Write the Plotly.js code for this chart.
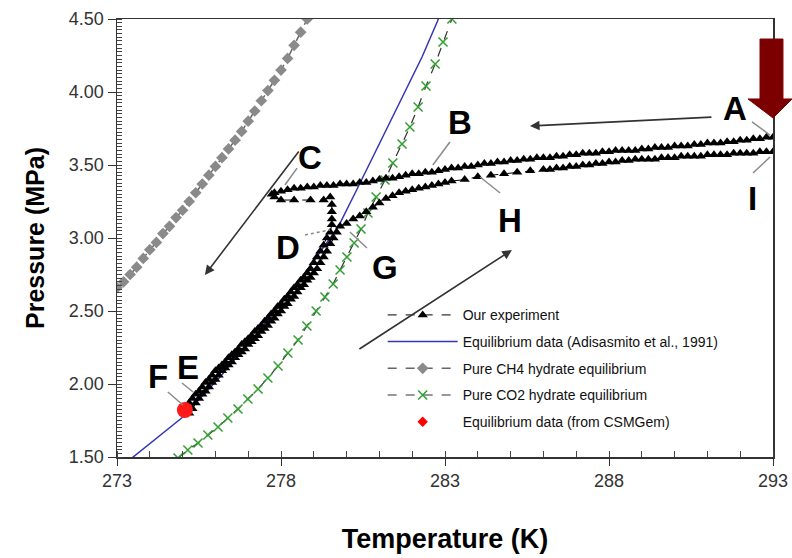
<!DOCTYPE html>
<html><head><meta charset="utf-8">
<script src="https://cdn.plot.ly/plotly-3.0.1.min.js"></script>
<style>html,body{margin:0;padding:0;background:#fff}#c{width:792px;height:558px}</style>
</head><body><div id="c"></div>
<script>
// ---- data (T in K, P in MPa) ----
const ch4T = [273.0,273.2,273.4,273.6,273.8,274.0,274.2,274.4,274.6,274.8,275.0,275.2,275.4,275.6,275.8,276.0,276.2,276.4,276.6,276.8,277.0,277.2,277.4,277.6,277.8,278.0,278.2,278.4,278.6,278.8,279.0];
const ch4P = [2.66,2.70,2.75,2.80,2.86,2.92,2.97,3.03,3.08,3.14,3.19,3.25,3.31,3.37,3.43,3.49,3.55,3.61,3.67,3.73,3.80,3.87,3.94,4.01,4.08,4.15,4.23,4.32,4.41,4.50,4.59];

const co2T = [274.86,275.16,275.47,275.77,276.08,276.38,276.69,276.99,277.30,277.60,277.91,278.21,278.52,278.79,279.07,279.34,279.59,279.80,280.01,280.23,280.44,280.65,280.90,281.17,281.41,281.69,281.93,282.18,282.42,282.70,282.94,283.21];
const co2P = [1.493,1.548,1.596,1.651,1.705,1.767,1.829,1.897,1.966,2.041,2.123,2.212,2.301,2.397,2.500,2.596,2.685,2.781,2.870,2.966,3.062,3.171,3.281,3.397,3.514,3.644,3.760,3.897,4.041,4.192,4.342,4.500];

const adiT = [273.15,274.01,275.01,276.14,277.36,278.58,279.74,280.26,280.77,281.29,281.81,282.30,282.76,282.88];
const adiP = [1.438,1.596,1.774,2.048,2.370,2.712,3.075,3.308,3.541,3.774,4.007,4.240,4.479,4.548];

// Our experiment: A -> B -> C (cooling, gas phase)
const expUpperT = [293.0,292.8,292.6,292.4,292.2,292.0,291.8,291.6,291.4,291.2,291.0,290.8,290.6,290.4,290.2,290.0,289.8,289.6,289.4,289.2,289.0,288.8,288.6,288.4,288.2,288.0,287.8,287.6,287.4,287.2,287.0,286.8,286.6,286.4,286.2,286.0,285.8,285.6,285.4,285.2,285.0,284.8,284.6,284.4,284.2,284.0,283.8,283.6,283.4,283.2,283.0,282.8,282.6,282.4,282.2,282.0,281.8,281.6,281.4,281.2,281.0,280.8,280.6,280.4,280.2,280.0,279.8,279.6,279.4,279.2,279.0,278.8,278.6,278.4,278.2,278.0,277.8];
const expUpperP = [3.69,3.69,3.68,3.68,3.67,3.67,3.66,3.66,3.65,3.65,3.65,3.64,3.64,3.63,3.63,3.63,3.62,3.62,3.62,3.61,3.61,3.60,3.60,3.60,3.60,3.59,3.59,3.58,3.58,3.58,3.57,3.57,3.56,3.56,3.55,3.55,3.55,3.54,3.54,3.53,3.53,3.52,3.52,3.51,3.51,3.50,3.49,3.49,3.48,3.48,3.47,3.46,3.45,3.45,3.44,3.44,3.43,3.42,3.41,3.41,3.40,3.39,3.38,3.38,3.37,3.37,3.37,3.36,3.36,3.36,3.35,3.35,3.34,3.34,3.33,3.32,3.31];
// C -> D (hydrate onset)
const expOnsetT = [277.72,277.80,278.00,278.40,278.90,279.30,279.50,279.55,279.55,279.55,279.55];
const expOnsetP = [3.30,3.28,3.26,3.26,3.26,3.26,3.28,3.23,3.18,3.13,3.09];
// D -> E (cooling along hydrate formation)
const expCoolT = [279.5,279.4,279.3,279.2,279.1,279.0,278.9,278.8,278.7,278.6,278.5,278.4,278.3,278.2,278.1,278.0,277.9,277.8,277.7,277.6,277.5,277.4,277.3,277.2,277.1,277.0,276.9,276.8,276.7,276.6,276.5,276.4,276.3,276.2,276.1,276.0,275.9,275.8,275.7,275.6,275.5,275.4,275.3,275.2,275.1];
const expCoolP = [3.04,3.00,2.95,2.91,2.87,2.83,2.79,2.76,2.73,2.71,2.68,2.66,2.63,2.60,2.58,2.55,2.53,2.50,2.48,2.45,2.43,2.40,2.38,2.36,2.33,2.31,2.29,2.27,2.24,2.22,2.20,2.18,2.15,2.13,2.11,2.09,2.06,2.03,2.01,1.98,1.95,1.93,1.90,1.87,1.83];
// E -> G (heating, dissociation)
const expHeatT = [275.2,275.3,275.4,275.5,275.6,275.7,275.8,275.9,276.0,276.1,276.2,276.3,276.4,276.5,276.6,276.7,276.8,276.9,277.0,277.1,277.2,277.3,277.4,277.5,277.6,277.7,277.8,277.9,278.0,278.1,278.2,278.3,278.4,278.5,278.6,278.7,278.8,278.9,279.0,279.1,279.2,279.3,279.4,279.5,279.6,279.7];
const expHeatP = [1.80,1.83,1.87,1.90,1.93,1.95,1.98,2.01,2.03,2.06,2.09,2.11,2.13,2.15,2.18,2.20,2.22,2.24,2.27,2.29,2.31,2.33,2.36,2.38,2.40,2.43,2.45,2.48,2.50,2.53,2.55,2.58,2.60,2.63,2.66,2.68,2.71,2.73,2.76,2.79,2.83,2.87,2.91,2.96,3.00,3.04];
// G -> H -> I
const expLowerT = [279.8,280.0,280.2,280.4,280.6,280.8,281.0,281.2,281.4,281.6,281.8,282.0,282.2,282.4,282.6,282.8,283.0,283.2,283.6,284.0,284.4,284.8,285.2,285.6,286.0,286.2,286.4,286.6,286.8,287.0,287.2,287.4,287.6,287.8,288.0,288.2,288.4,288.6,288.8,289.0,289.2,289.4,289.6,289.8,290.0,290.2,290.4,290.6,290.8,291.0,291.2,291.4,291.6,291.8,292.0,292.2,292.4,292.6,292.8,293.0];
const expLowerP = [3.08,3.10,3.13,3.15,3.18,3.21,3.24,3.27,3.29,3.31,3.32,3.33,3.34,3.35,3.36,3.37,3.38,3.39,3.40,3.42,3.43,3.44,3.45,3.46,3.47,3.47,3.48,3.48,3.49,3.49,3.50,3.50,3.51,3.51,3.52,3.52,3.53,3.53,3.54,3.54,3.54,3.54,3.55,3.55,3.55,3.56,3.56,3.56,3.56,3.57,3.57,3.57,3.57,3.58,3.58,3.58,3.58,3.59,3.59,3.59];

const csmT = [275.07];
const csmP = [1.822];

const xTicks = [273,278,283,288,293];
const yTicks = [1.5,2.0,2.5,3.0,3.5,4.0,4.5];

const expT = [].concat(expUpperT, expOnsetT, expCoolT, expHeatT, expLowerT);
const expP = [].concat(expUpperP, expOnsetP, expCoolP, expHeatP, expLowerP);

const FONT = 'Arial, "Liberation Sans", sans-serif';

const traces = [
  {x: adiT, y: adiP, mode: 'lines', name: 'Equilibrium data (Adisasmito et al., 1991)',
   line: {color: '#3535b5', width: 1.5}, legendrank: 2, legendgroup: 'g2'},
  {x: ch4T, y: ch4P, mode: 'lines+markers', name: 'Pure CH4 hydrate equilibrium',
   line: {color: '#666', width: 1.5, dash: 'dash'},
   marker: {symbol: 'diamond', size: 9, color: '#8a8a8a'}, legendrank: 3, legendgroup: 'g3'},
  {x: co2T, y: co2P, mode: 'lines+markers', name: 'Pure CO2 hydrate equilibrium',
   line: {color: '#333', width: 1.2, dash: 'dash'},
   marker: {symbol: 'x-thin-open', size: 9, color: '#2f9e2f', line: {color: '#2f9e2f', width: 1.5}}, legendrank: 4, legendgroup: 'g4'},
  {x: expT, y: expP, mode: 'lines+markers', name: 'Our experiment',
   line: {color: '#000', width: 1, dash: 'dash'},
   marker: {symbol: 'triangle-up', size: 9, color: '#000'}, legendrank: 1, legendgroup: 'g1'},
  {x: csmT, y: csmP, mode: 'markers', name: 'Equilibrium data (from CSMGem)',
   marker: {symbol: 'diamond', size: 8, color: '#ff0000'}, legendrank: 5, legendgroup: 'g5'},
  {x: csmT, y: csmP, mode: 'markers', showlegend: false, hoverinfo: 'skip',
   marker: {symbol: 'circle', size: 16, color: '#ff1a1a'}, legendgroup: 'g5'}
];

function lbl(t, x, y) {
  return {text: t, x: x, y: y, xref: 'x', yref: 'y', showarrow: false,
          font: {family: FONT, size: 33, color: '#000', weight: 'bold'}};
}
function arr(x, y, ax, ay) {
  return {text: '', x: x, y: y, xref: 'x', yref: 'y', ax: ax, ay: ay, showarrow: true,
          arrowhead: 2, arrowsize: 1.2, arrowwidth: 1.6, arrowcolor: '#333'};
}
function lead(x0, y0, x1, y1, dash) {
  return {type: 'line', xref: 'x', yref: 'y', x0: x0, y0: y0, x1: x1, y1: y1,
          line: {color: '#8a8a8a', width: 1.5, dash: dash || 'solid'}};
}

const layout = {
  width: 792, height: 558,
  margin: {l: 117, r: 19, t: 19, b: 101},
  paper_bgcolor: '#fff', plot_bgcolor: '#fff',
  font: {family: FONT, color: '#222'},
  showlegend: true,
  legend: {x: 0.405, y: 0.36, xanchor: 'left', yanchor: 'top', bgcolor: 'rgba(0,0,0,0)',
           font: {family: FONT, size: 14, color: '#111'}, itemwidth: 70, tracegroupgap: 5.5,
           traceorder: 'grouped'},
  xaxis: {range: [273, 293], tickvals: xTicks, ticktext: xTicks.map(String),
          ticks: 'outside', ticklen: 7, tickwidth: 1, tickcolor: '#333',
          showline: true, linecolor: '#333', linewidth: 1.5, mirror: true, showgrid: false, zeroline: false,
          minor: {dtick: 1, ticks: 'inside', ticklen: 6, tickcolor: '#444', showgrid: false},
          tickfont: {family: FONT, size: 18, color: '#333'},
          title: {text: 'Temperature (K)', font: {family: FONT, size: 27, color: '#000', weight: 'bold'}, standoff: 39}},
  yaxis: {range: [1.5, 4.5], tickvals: yTicks, tickformat: '.2f',
          ticks: 'outside', ticklen: 8, tickwidth: 1, tickcolor: '#333',
          showline: true, linecolor: '#333', linewidth: 1.5, mirror: true, showgrid: false, zeroline: false,
          minor: {dtick: 0.025, ticks: 'inside', ticklen: 5, tickcolor: '#444', showgrid: false},
          tickfont: {family: FONT, size: 18, color: '#333'},
          title: {text: 'Pressure (MPa)', font: {family: FONT, size: 25, color: '#000', weight: 'bold'}, standoff: 17}},
  annotations: [
    lbl('A', 291.84, 3.890), lbl('B', 283.46, 3.788), lbl('C', 278.88, 3.548),
    lbl('D', 278.21, 2.938), lbl('E', 275.16, 2.116), lbl('F', 274.25, 2.048),
    lbl('G', 281.17, 2.801), lbl('H', 284.98, 3.123), lbl('I', 292.36, 3.274),
    arr(285.59, 3.767, 183, -9), arr(275.68, 2.747, 95, -125), arr(285.04, 2.918, -154, 100)
  ],
  shapes: [
    lead(292.36, 3.795, 292.91, 3.705), lead(283.15, 3.658, 282.63, 3.50),
    lead(278.49, 3.479, 278.12, 3.363), lead(278.73, 3.021, 279.49, 3.055, 'dot'),
    lead(274.98, 2.007, 275.32, 1.945), lead(274.55, 1.945, 275.01, 1.856),
    lead(280.10, 3.041, 280.62, 2.932), lead(284.07, 3.418, 284.68, 3.308),
    lead(292.39, 3.445, 292.91, 3.555),
    {type: 'path', xref: 'paper', yref: 'paper', layer: 'above',
     path: 'M 0.9802 0.9543 L 1.0152 0.9543 L 1.0152 0.8174 L 1.0290 0.8174 L 1.0 0.7740 L 0.9619 0.8174 L 0.9802 0.8174 Z',
     fillcolor: '#7d0000', line: {color: '#7d0000', width: 1}}
  ]
};

Plotly.newPlot('c', traces, layout, {displayModeBar: false, staticPlot: true});
</script></body></html>
